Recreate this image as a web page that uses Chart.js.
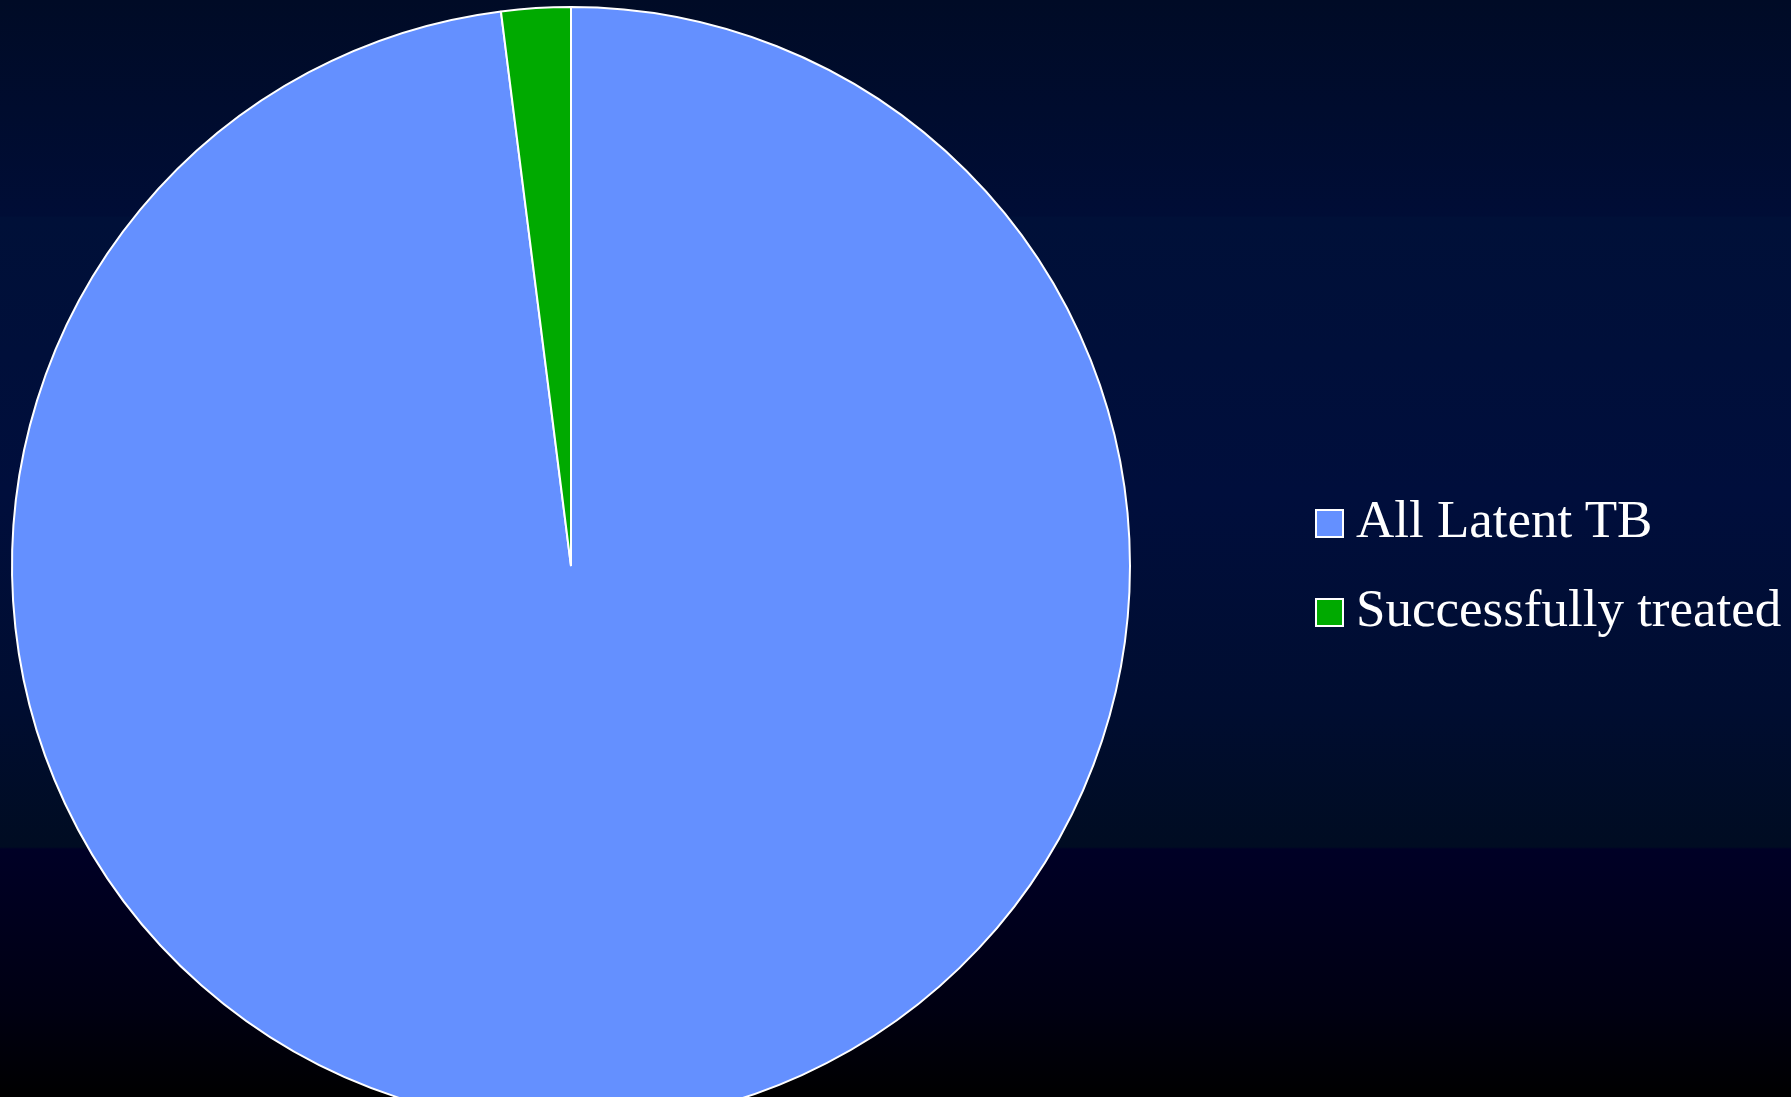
<!DOCTYPE html>
<html lang="en">

<head>
    <meta charset="UTF-8">
    <title>Latent TB</title>
    <script src="https://cdn.jsdelivr.net/npm/chart.js@4.4.1/dist/chart.umd.min.js"></script>
    <style>
        html, body {
            margin: 0;
            padding: 0;
            width: 1791px;
            height: 1097px;
            overflow: hidden;
        }
        body {
            background: linear-gradient(to bottom,
                #000b26 0%, #000d36 19.7%, #001038 19.8%, #000e3c 45%,
                #000d30 65%, #000c22 77.2%, #000026 77.4%, #000012 92%, #000000 100%);
            position: relative;
            font-family: "Liberation Serif", "DejaVu Serif", serif;
        }
        #pieWrap {
            position: absolute;
            left: 0;
            top: -5px;
        }
        #legend {
            position: absolute;
            left: 1315px;
            top: 491px;
            color: #ffffff;
            font-size: 53px;
        }
        .item {
            height: 89px;
            line-height: 57px;
            white-space: nowrap;
        }
        .box {
            display: inline-block;
            width: 25px;
            height: 25px;
            border: 2px solid #ffffff;
            margin-right: 12px;
            vertical-align: -1px;
        }
    </style>
</head>

<body>
    <div id="pieWrap">
        <canvas id="myChart" width="1142" height="1142"></canvas>
    </div>
    <div id="legend"></div>

    <script>
        // values (share of people)
        const labels = ['All Latent TB', 'Successfully treated'];
        const values = [98, 2];
        const colours = ['#6490ff', '#00aa00'];

        const ctx = document.getElementById('myChart').getContext('2d');
        const myChart = new Chart(ctx, {
            type: 'pie',
            data: {
                labels: labels,
                datasets: [{
                    data: values,
                    backgroundColor: colours,
                    borderColor: '#ffffff',
                    borderWidth: 2
                }]
            },
            options: {
                responsive: false,
                animation: false,
                layout: { padding: 11 },
                plugins: {
                    legend: { display: false },
                    tooltip: { enabled: false }
                }
            }
        });

        // legend as html, built from the same arrays
        const legend = document.getElementById('legend');
        labels.forEach(function (lab, i) {
            const row = document.createElement('div');
            row.className = 'item';
            const box = document.createElement('span');
            box.className = 'box';
            box.style.backgroundColor = colours[i];
            row.appendChild(box);
            row.appendChild(document.createTextNode(lab));
            legend.appendChild(row);
        });
    </script>
</body>

</html>
